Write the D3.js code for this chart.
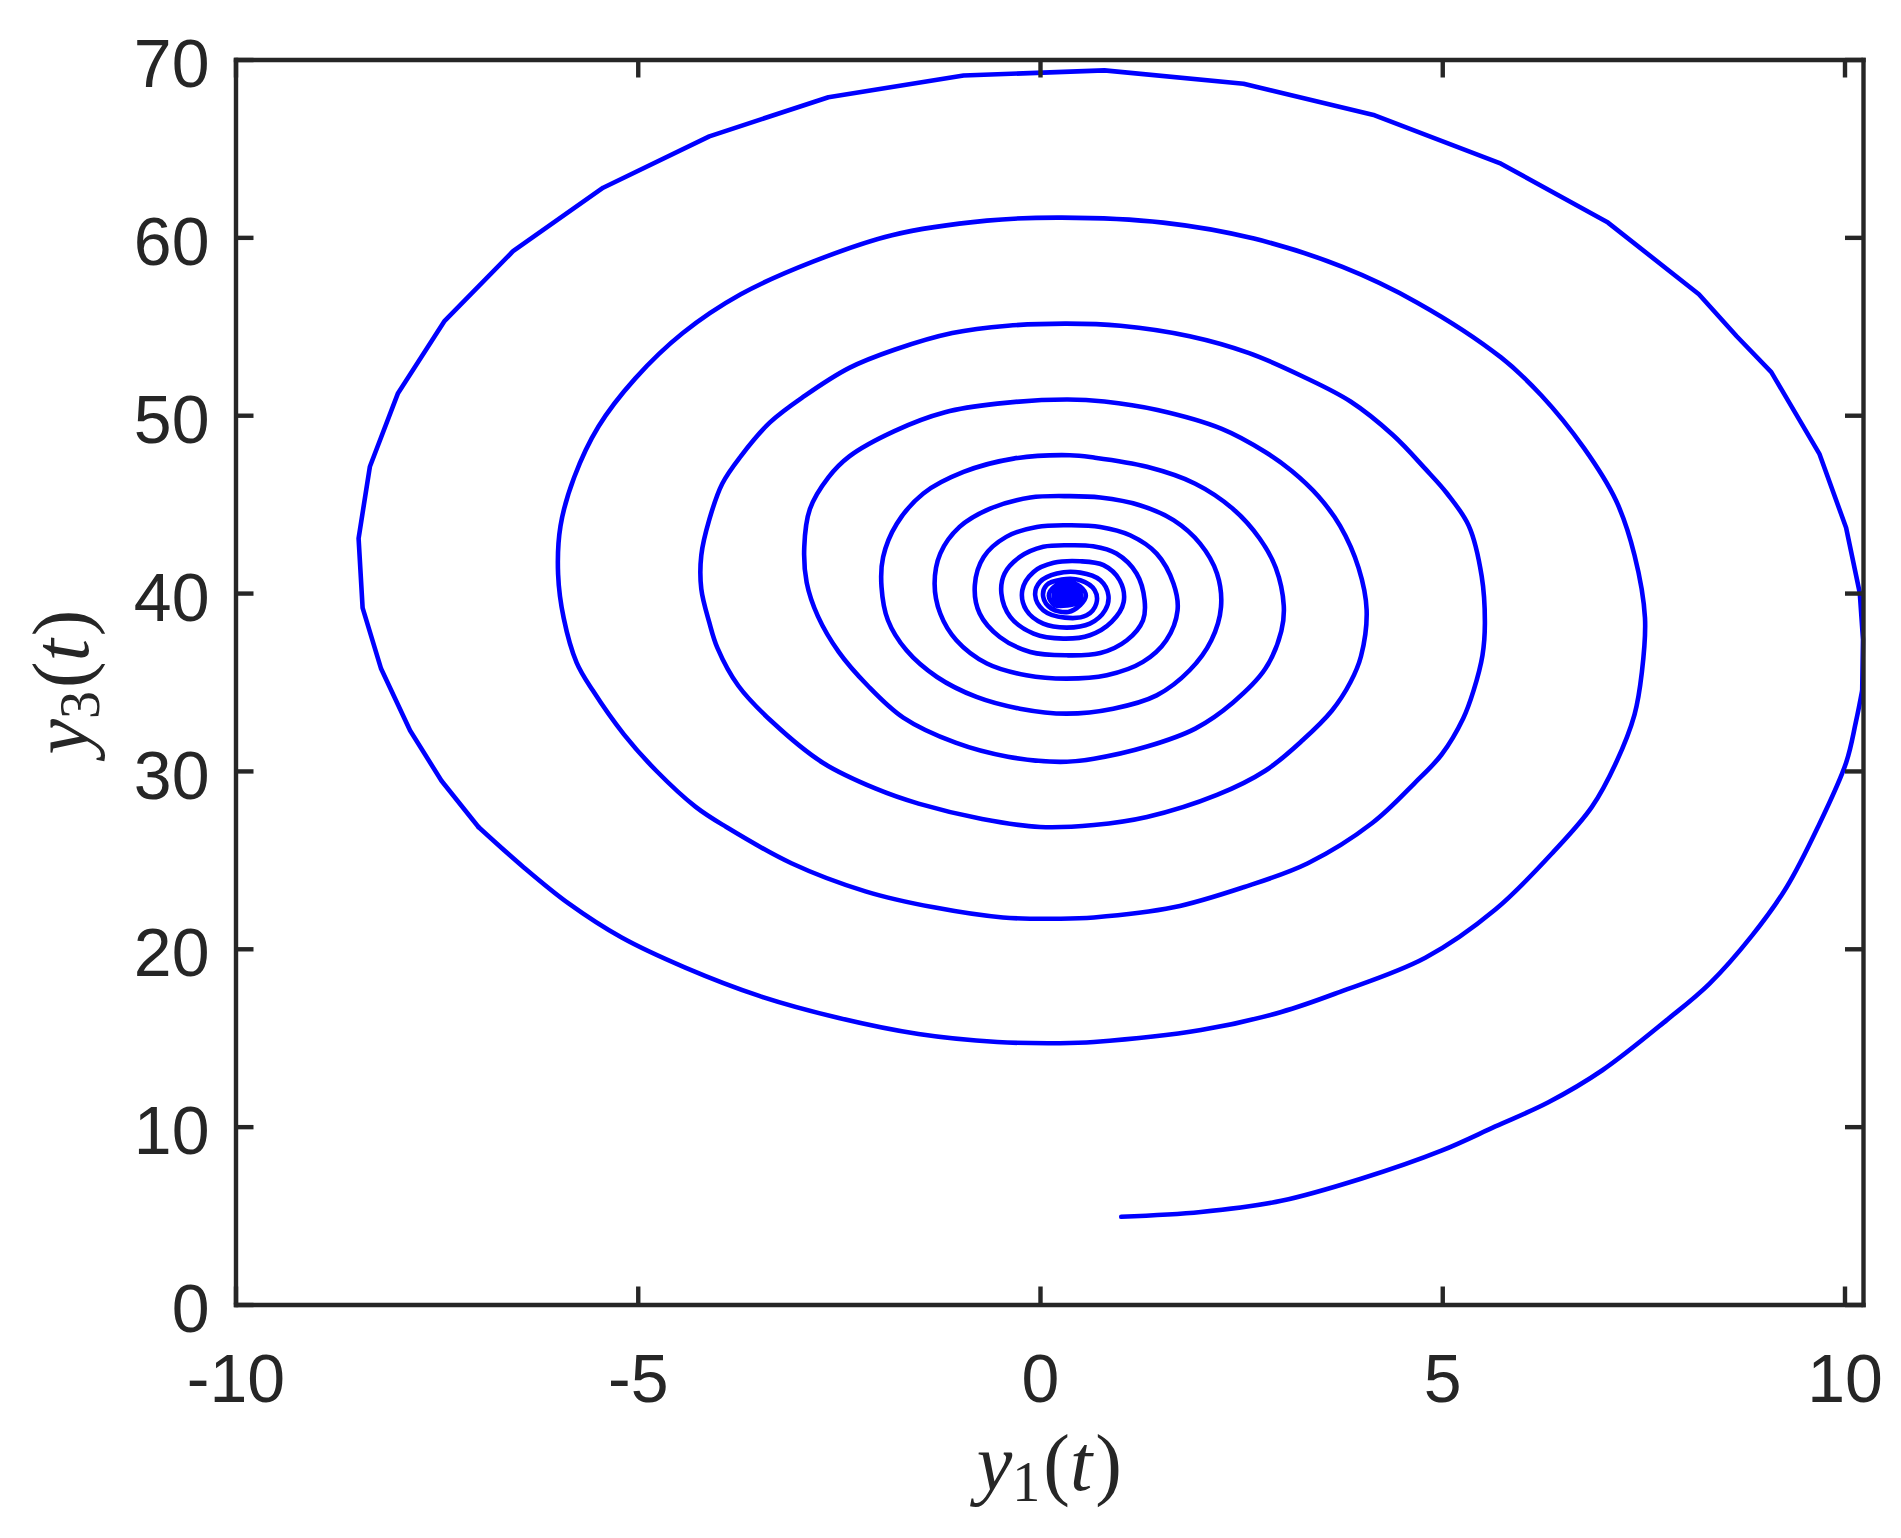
<!DOCTYPE html>
<html>
<head>
<meta charset="utf-8">
<script src="https://cdn.jsdelivr.net/npm/d3@7"></script>
<style>
body { margin: 0; background: #fff; }
svg { display: block; }
</style>
</head>
<body>
<div id="chart"></div>
<script>
// phase portrait y1(t) vs y3(t), points
var turn1 = [[1.01,4.93],[2.00,5.20],[3.00,5.83],[3.99,7.07],[4.99,8.65],[5.66,10.01],[6.32,11.37],[6.99,13.17],
  [7.79,15.99],[8.32,18.03],[8.85,20.74],[9.28,23.46],[9.67,26.85],[10.02,30.46],[10.14,32.72],[10.22,34.53],
  [10.23,37.39],[10.19,40.00],[10.02,43.67],[9.69,47.81],[9.09,52.42],[8.66,54.44],[8.19,56.80],[7.06,60.83],
  [5.73,64.14],[4.16,66.86],[2.53,68.64],[0.80,69.39],[-0.95,69.10],[-2.63,67.88],[-4.11,65.68],[-5.43,62.79],
  [-6.55,59.22],[-7.40,55.31],[-7.98,51.24],[-8.33,47.10],[-8.47,43.08],[-8.42,39.17],[-8.19,35.74],[-7.83,32.27],
  [-7.44,29.45],[-6.98,26.85],[-6.42,24.59],[-5.86,22.55],[-5.20,20.63],[-4.41,18.94],[-3.49,17.35],[-2.50,16.11],
  [-1.51,15.21],[-0.53,14.76],[0.25,14.69]];
var turn2 = [[0.67,14.76],[2.00,15.43],[3.00,16.45],[3.73,17.58],[4.79,19.50],[5.66,22.21],[6.39,25.49],[6.86,27.98],
  [7.16,30.46],[7.39,33.17],[7.48,35.50],[7.52,38.60],[7.39,42.13],[7.16,45.20],[6.76,48.16],[6.23,51.12],
  [5.73,53.25],[4.69,56.33],[3.76,58.34],[2.66,59.93],[1.53,60.83],[0.27,61.11],[-0.66,60.94],[-1.84,60.12],
  [-2.83,58.62],[-3.72,56.80],[-4.44,54.62],[-5.03,52.07],[-5.49,49.35],[-5.79,46.51],[-5.96,43.78],[-5.99,41.06],
  [-5.92,38.58],[-5.76,36.09],[-5.56,34.53],[-5.17,32.04],[-4.77,30.01],[-4.28,27.98],[-3.90,26.85],[-3.09,24.81],
  [-2.17,23.23],[-1.32,22.33],[-0.46,21.76],[0.25,21.69]];
var turn3 = [[0.67,21.76],[1.66,22.33],[2.53,23.46],[3.33,24.81],[4.13,27.07],[4.66,29.33],[4.99,30.91],[5.26,32.95],
  [5.39,34.53],[5.50,36.50],[5.53,38.30],[5.49,40.95],[5.33,43.78],[5.06,45.60],[4.79,46.98],[4.39,48.87],
  [3.86,50.77],[3.26,52.19],[2.60,53.49],[1.86,54.44],[1.00,55.03],[0.33,55.15],[-0.40,55.03],[-1.09,54.62],
  [-1.81,53.68],[-2.37,52.66],[-2.93,51.07],[-3.36,49.58],[-3.72,47.69],[-3.95,46.15],[-4.11,44.14],[-4.21,42.13],
  [-4.21,40.23],[-4.11,38.34],[-4.01,36.92],[-3.75,34.79],[-3.32,32.72],[-2.70,30.46],[-2.04,29.00],[-1.51,28.16],
  [-0.72,27.30],[0.00,26.85]];
var turn4 = [[0.67,26.96],[1.33,27.41],[2.20,28.65],[2.80,30.01],[3.26,31.71],[3.63,33.40],[3.86,35.00],[3.99,36.45],
  [4.06,39.05],[3.96,41.42],[3.73,43.78],[3.46,45.44],[3.13,46.86],[2.80,47.93],[2.26,49.23],[1.46,50.29],
  [0.80,50.77],[0.33,50.88],[-0.53,50.65],[-1.18,50.17],[-1.81,49.11],[-2.37,47.69],[-2.63,46.51],[-2.86,44.73],
  [-2.93,42.60],[-2.90,40.59],[-2.76,38.69],[-2.50,36.68],[-2.14,34.79],[-1.70,33.00],[-1.05,31.59],
  [-0.40,30.80],[0.25,30.51]];
var turn5 = [[0.67,30.69],[1.33,31.37],[1.93,32.38],[2.40,33.85],[2.80,35.74],[3.00,37.87],[3.03,39.29],[2.93,41.42],
  [2.73,43.07],[2.40,44.73],[1.93,46.15],[1.33,47.10],[0.67,47.62],[0.37,47.75],[-0.33,47.56],[-0.95,46.81],
  [-1.45,45.60],[-1.78,43.90],[-1.95,42.03],[-1.97,40.35],[-1.89,38.47],[-1.66,36.78],[-1.28,35.28],[-0.79,34.16],
  [-0.25,33.50],[0.33,33.22]];
var turn6 = [[0.91,33.50],[1.45,34.25],[1.86,35.66],[2.13,37.35],[2.25,39.22],[2.20,41.10],[1.99,42.78],[1.66,44.10],
  [1.24,44.94],[0.75,45.37],[0.37,45.45],[-0.12,45.37],[-0.62,44.75],[-1.00,43.72],[-1.24,42.22],[-1.31,40.53],
  [-1.24,38.85],[-1.04,37.35],[-0.66,36.04],[-0.17,35.38],[0.33,35.19]];
var turn7 = [[0.83,35.38],[1.28,36.13],[1.57,37.35],[1.71,39.04],[1.66,40.53],[1.45,42.22],[1.12,43.25],[0.75,43.72],
  [0.37,43.81],[-0.04,43.72],[-0.42,43.16],[-0.70,42.03],[-0.81,40.44],[-0.75,38.85],[-0.50,37.53],[-0.12,36.69],
  [0.33,36.50]];
var turn8 = [[0.75,36.63],[1.08,37.35],[1.28,38.47],[1.30,39.60],[1.20,41.10],[0.95,42.22],[0.66,42.63],[0.37,42.69],
  [0.04,42.60],[-0.25,42.03],[-0.44,41.10],[-0.48,39.97],[-0.37,38.66],[-0.08,37.72],[0.29,37.44]];
var turn9 = [[0.62,37.63],[0.89,38.38],[1.04,39.50],[0.99,40.72],[0.79,41.57],[0.50,41.79],[0.17,41.70],[-0.08,41.19],
  [-0.22,40.16],[-0.17,39.04],[0.04,38.28],[0.33,38.06]];
var turn10 = [[0.62,38.28],[0.81,39.04],[0.85,39.88],[0.75,40.72],[0.50,41.15],[0.21,41.10],[0.00,40.63],[-0.06,39.88],
  [0.04,39.04],[0.31,38.62]];
var turn11 = [[0.58,38.75],[0.70,39.41],[0.68,40.16],[0.50,40.72],[0.27,40.76],[0.08,40.44],[0.04,39.78],[0.14,39.13],
  [0.35,38.94]];
var core = [[0.50,39.33],[0.57,39.85],[0.50,40.37],[0.34,40.59],[0.18,40.37],[0.11,39.85],[0.18,39.33],
  [0.34,39.30],[0.46,39.46],[0.51,39.85],[0.46,40.24],[0.34,40.40],[0.22,40.24],[0.17,39.85],[0.22,39.46],
  [0.34,39.47],[0.42,39.58],[0.46,39.85],[0.42,40.12],[0.34,40.23],[0.26,40.12],[0.22,39.85],[0.26,39.58],
  [0.34,39.63],[0.39,39.70],[0.41,39.85],[0.39,40.00],[0.34,40.07],[0.29,40.00],[0.27,39.85],[0.29,39.70],
  [0.34,39.75],[0.37,39.80],[0.36,39.90],[0.33,39.92],[0.32,39.84],[0.34,39.85]];

var xTickValues = [-10, -5, 0, 5, 10],
    yTickValues = [0, 10, 20, 30, 40, 50, 60, 70],
    xDomain = [-10, 10.23],
    yDomain = [0, 70];

var svg_width = 1901,
    svg_height = 1538,
    margin = {left: 235.5, top: 59.5, right: 38, bottom: 233.5},
    tick_len = 18,
    ink = "#262626";

var w = svg_width - margin.left - margin.right,
    h = svg_height - margin.top - margin.bottom;

// the big upper arc of the first turn has coarse solver steps (straight pieces),
// the rest of the trajectory is finely sampled
var startArc = turn1.slice(0, 16),
    coarseArc = turn1.slice(15, 42),
    restArc = [].concat(turn1.slice(41), turn2, turn3, turn4, turn5, turn6, turn7, turn8, turn9, turn10, turn11, core);

var x = d3.scaleLinear().domain(xDomain).range([0, w]);
var y = d3.scaleLinear().domain(yDomain).range([h, 0]);

var svg = d3.select("#chart").append("svg")
    .attr("width", svg_width)
    .attr("height", svg_height)
    .style("background", "#fff");

var g = svg.append("g")
    .attr("transform", "translate(" + margin.left + "," + margin.top + ")");

var lineStraight = d3.line()
    .x(function (d) { return x(d[0]); })
    .y(function (d) { return y(d[1]); });

var lineSmooth = d3.line()
    .x(function (d) { return x(d[0]); })
    .y(function (d) { return y(d[1]); })
    .curve(d3.curveCatmullRom.alpha(0.5));

var DrawArc = function (pts, gen) {
    g.append("path")
        .datum(pts)
        .attr("d", gen)
        .attr("fill", "none")
        .attr("stroke", "#0000ff")
        .attr("stroke-width", 4.6)
        .attr("stroke-linejoin", "round")
        .attr("stroke-linecap", "round");
};

DrawArc(startArc, lineSmooth);
DrawArc(coarseArc, lineStraight);
DrawArc(restArc, lineSmooth);

var fmt = function (d) { return String(d); };

g.append("g").attr("class", "ax-b")
    .attr("transform", "translate(0," + h + ")")
    .call(d3.axisBottom(x).tickValues(xTickValues).tickSizeInner(-tick_len).tickSizeOuter(0).tickPadding(49).tickFormat(fmt));
g.append("g").attr("class", "ax-t")
    .call(d3.axisTop(x).tickValues(xTickValues).tickSizeInner(-tick_len).tickSizeOuter(0).tickFormat(""));
g.append("g").attr("class", "ax-l")
    .call(d3.axisLeft(y).tickValues(yTickValues).tickSizeInner(-tick_len).tickSizeOuter(0).tickPadding(26).tickFormat(fmt));
g.append("g").attr("class", "ax-r")
    .attr("transform", "translate(" + w + ",0)")
    .call(d3.axisRight(y).tickValues(yTickValues).tickSizeInner(-tick_len).tickSizeOuter(0).tickFormat(""));

g.selectAll(".domain")
    .attr("stroke", ink)
    .attr("stroke-width", 4.4)
    .attr("stroke-linecap", "square");
g.selectAll(".tick line")
    .attr("stroke", ink)
    .attr("stroke-width", 4.4);
g.selectAll(".tick text")
    .attr("fill", ink)
    .style("font-family", "'Liberation Sans', Arial, sans-serif")
    .style("font-size", "68px");
g.select(".ax-l").selectAll(".tick text").attr("dy", "0.4em");

// axis labels, latex-like
var xl = svg.append("text")
    .attr("x", margin.left + w / 2)
    .attr("y", 1490)
    .attr("text-anchor", "middle")
    .attr("fill", ink)
    .style("font-family", "'Liberation Serif', 'Times New Roman', serif")
    .style("font-size", "80px");
xl.append("tspan").style("font-style", "italic").text("y");
xl.append("tspan").style("font-size", "56px").attr("dy", 11).text("1");
xl.append("tspan").attr("dy", -11).attr("dx", 3).text("(");
xl.append("tspan").style("font-style", "italic").text("t");
xl.append("tspan").attr("dx", 3).text(")");

var yl = svg.append("text")
    .attr("transform", "translate(88," + (margin.top + h / 2) + ") rotate(-90)")
    .attr("text-anchor", "middle")
    .attr("fill", ink)
    .style("font-family", "'Liberation Serif', 'Times New Roman', serif")
    .style("font-size", "80px");
yl.append("tspan").style("font-style", "italic").text("y");
yl.append("tspan").style("font-size", "56px").attr("dy", 11).text("3");
yl.append("tspan").attr("dy", -11).attr("dx", 3).text("(");
yl.append("tspan").style("font-style", "italic").text("t");
yl.append("tspan").attr("dx", 3).text(")");
</script>
</body>
</html>
